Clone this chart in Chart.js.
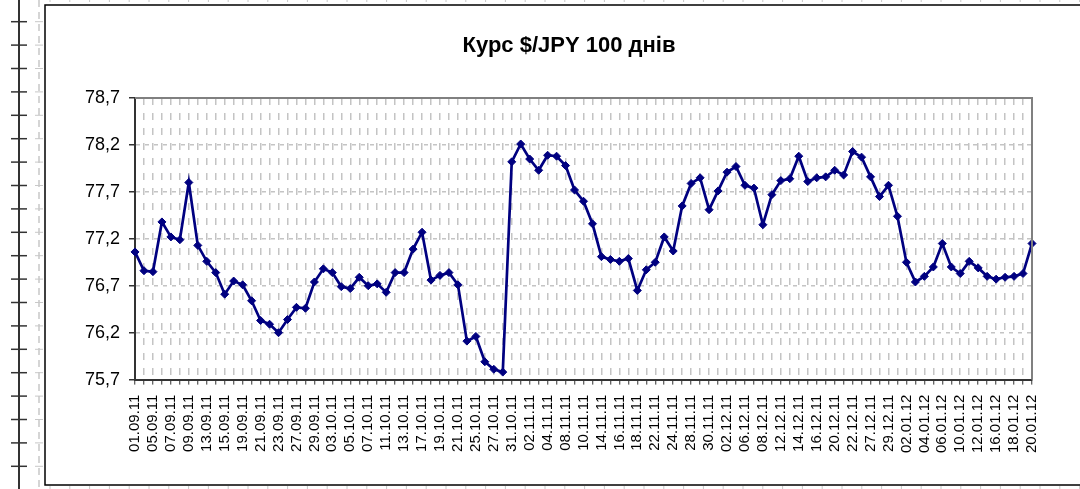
<!DOCTYPE html>
<html>
<head>
<meta charset="utf-8">
<title>Курс $/JPY 100 днів</title>
<script src="https://cdn.jsdelivr.net/npm/chart.js@4/dist/chart.umd.min.js"></script>
<style>
    html, body { margin: 0; padding: 0; background: #ffffff; }
    #wrap { width: 1080px; height: 489px; position: relative; }
</style>
</head>
<body>
<div id="wrap"><canvas id="rateChart" width="1080" height="489"></canvas></div>
<script>
const chartTitle = "Курс $/JPY 100 днів";

const dates = [
    "01.09.11", "02.09.11", "05.09.11", "06.09.11", "07.09.11", "08.09.11", "09.09.11", "12.09.11", "13.09.11", "14.09.11",
    "15.09.11", "16.09.11", "19.09.11", "20.09.11", "21.09.11", "22.09.11", "23.09.11", "26.09.11", "27.09.11", "28.09.11",
    "29.09.11", "30.09.11", "03.10.11", "04.10.11", "05.10.11", "06.10.11", "07.10.11", "10.10.11", "11.10.11", "12.10.11",
    "13.10.11", "14.10.11", "17.10.11", "18.10.11", "19.10.11", "20.10.11", "21.10.11", "24.10.11", "25.10.11", "26.10.11",
    "27.10.11", "28.10.11", "31.10.11", "01.11.11", "02.11.11", "03.11.11", "04.11.11", "07.11.11", "08.11.11", "09.11.11",
    "10.11.11", "11.11.11", "14.11.11", "15.11.11", "16.11.11", "17.11.11", "18.11.11", "21.11.11", "22.11.11", "23.11.11",
    "24.11.11", "25.11.11", "28.11.11", "29.11.11", "30.11.11", "01.12.11", "02.12.11", "05.12.11", "06.12.11", "07.12.11",
    "08.12.11", "09.12.11", "12.12.11", "13.12.11", "14.12.11", "15.12.11", "16.12.11", "19.12.11", "20.12.11", "21.12.11",
    "22.12.11", "23.12.11", "27.12.11", "28.12.11", "29.12.11", "30.12.11", "02.01.12", "03.01.12", "04.01.12", "05.01.12",
    "06.01.12", "09.01.12", "10.01.12", "11.01.12", "12.01.12", "13.01.12", "16.01.12", "17.01.12", "18.01.12", "19.01.12",
    "20.01.12"
];

const rates = [
    77.06, 76.86, 76.85, 77.38, 77.22, 77.19, 77.80, 77.13, 76.96, 76.84,
    76.61, 76.75, 76.71, 76.54, 76.33, 76.29, 76.20, 76.34, 76.47, 76.46,
    76.74, 76.88, 76.84, 76.69, 76.67, 76.79, 76.70, 76.72, 76.63, 76.84,
    76.84, 77.09, 77.27, 76.76, 76.81, 76.84, 76.71, 76.11, 76.16, 75.89,
    75.81, 75.78, 78.02, 78.21, 78.05, 77.93, 78.09, 78.08, 77.98, 77.72,
    77.60, 77.36, 77.01, 76.98, 76.96, 76.99, 76.65, 76.87, 76.95, 77.22,
    77.07, 77.55, 77.79, 77.85, 77.51, 77.71, 77.91, 77.97, 77.77, 77.74,
    77.35, 77.67, 77.82, 77.84, 78.08, 77.81, 77.85, 77.86, 77.93, 77.88,
    78.13, 78.07, 77.86, 77.65, 77.77, 77.44, 76.95, 76.74, 76.80, 76.90,
    77.15, 76.90, 76.83, 76.96, 76.89, 76.80, 76.77, 76.79, 76.80, 76.83,
    77.15
];

const yMin = 75.7;
const yMax = 78.7;
const yStep = 0.5;

// sheet frame, ruler on the left and grey border of the plot area
const framePlugin = {
    id: "frame",
    beforeDraw(chart) {
        const ctx = chart.ctx;
        ctx.save();
        ctx.fillStyle = "#ffffff";
        ctx.fillRect(0, 0, chart.width, chart.height);

        // left ruler
        ctx.strokeStyle = "#333333";
        ctx.lineWidth = 2;
        ctx.beginPath();
        ctx.moveTo(19, 0);
        ctx.lineTo(19, chart.height);
        ctx.stroke();
        ctx.lineWidth = 1.5;
        for (let y = 21.7; y < chart.height; y += 23.4) {
            ctx.beginPath();
            ctx.moveTo(11, y);
            ctx.lineTo(27, y);
            ctx.stroke();
        }
        ctx.strokeStyle = "#c8c8c8";
        ctx.lineWidth = 1.5;
        ctx.setLineDash([7, 5]);
        ctx.beginPath();
        ctx.moveTo(39, 0);
        ctx.lineTo(39, chart.height);
        ctx.stroke();
        ctx.setLineDash([]);
        ctx.lineWidth = 1;
        for (let y = 21.7; y < chart.height; y += 23.4) {
            ctx.beginPath();
            ctx.moveTo(35, y);
            ctx.lineTo(43, y);
            ctx.stroke();
        }
        for (let x = 50; x < chart.width; x += 19.8) {
            ctx.beginPath();
            ctx.moveTo(x, 0);
            ctx.lineTo(x, 2);
            ctx.moveTo(x, chart.height - 3);
            ctx.lineTo(x, chart.height);
            ctx.stroke();
        }

        // chart border
        ctx.strokeStyle = "#000000";
        ctx.lineWidth = 1.5;
        ctx.strokeRect(45, 5, chart.width + 10, 480);
        ctx.restore();
    },
    afterDraw(chart) {
        const a = chart.chartArea;
        const ctx = chart.ctx;
        ctx.save();
        ctx.strokeStyle = "#808080";
        ctx.lineWidth = 2;
        ctx.beginPath();
        ctx.moveTo(a.left, a.top);
        ctx.lineTo(a.right, a.top);
        ctx.lineTo(a.right, a.bottom);
        ctx.stroke();
        ctx.restore();
    }
};

Chart.defaults.font.family = '"Liberation Sans", Arial, sans-serif';
Chart.defaults.color = "#000000";

new Chart(document.getElementById("rateChart"), {
    type: "line",
    data: {
        labels: dates,
        datasets: [
            {
                label: chartTitle,
                data: rates,
                yAxisID: "y",
                borderColor: "#000080",
                backgroundColor: "#000080",
                borderWidth: 2.7,
                pointStyle: "rectRot",
                pointRadius: 4,
                pointBorderWidth: 1,
                tension: 0,
                fill: false
            }
        ]
    },
    options: {
        responsive: false,
        animation: false,
        layout: {
            padding: { left: 58, right: 0, top: 33, bottom: 26 }
        },
        plugins: {
            legend: { display: false },
            tooltip: { enabled: false },
            title: {
                display: true,
                text: chartTitle,
                color: "#000000",
                font: { size: 22, weight: "bold" },
                padding: { top: 0, bottom: 38.6 }
            }
        },
        scales: {
            x: {
                type: "category",
                offset: false,
                grid: {
                    display: true,
                    color: "#c4c4c4",
                    lineWidth: 1.5,
                    tickColor: "#333333",
                    tickLength: 5,
                    tickWidth: 1,
                    tickBorderDash: []
                },
                border: { display: true, color: "#333333", width: 2, dash: [7, 8] },
                ticks: {
                    autoSkip: false,
                    maxRotation: 90,
                    minRotation: 90,
                    padding: 10,
                    font: { size: 15 },
                    callback: function (value, index) {
                        return index % 2 === 0 ? this.getLabelForValue(value) : "";
                    }
                }
            },
            y: {
                min: yMin,
                max: yMax,
                grid: {
                    color: "#c4c4c4",
                    lineWidth: 1.5,
                    tickColor: "#333333",
                    tickLength: 6,
                    tickWidth: 1.5,
                    tickBorderDash: []
                },
                border: { display: true, color: "#333333", width: 2, dash: [4, 5] },
                ticks: {
                    stepSize: yStep,
                    padding: 9,
                    font: { size: 18 },
                    callback: value => value.toFixed(1).replace(".", ",")
                },
                afterFit: scale => { scale.width = 77; }
            },
            // empty space on the right of the plot, as in the sheet
            yRight: {
                position: "right",
                display: true,
                grid: { display: false, drawOnChartArea: false },
                border: { display: false },
                ticks: { display: false },
                afterFit: scale => { scale.width = 48; }
            }
        }
    },
    plugins: [framePlugin]
});
</script>
</body>
</html>
